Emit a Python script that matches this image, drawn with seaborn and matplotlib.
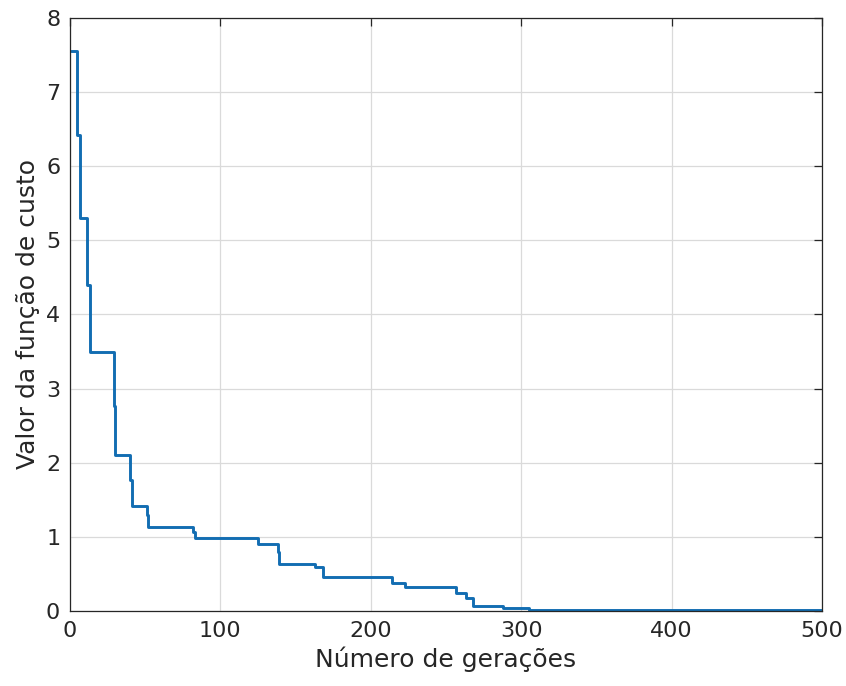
import matplotlib
matplotlib.use('Agg')
import matplotlib.pyplot as plt
import seaborn as sns
import pandas as pd

# best cost per generation (step changes)
geracoes = [1, 5, 7, 11, 13, 29, 30, 40, 41, 51, 52, 82, 83, 125, 138, 139,
            163, 168, 214, 223, 257, 263, 268, 288, 305, 500]
custo = [7.55, 6.42, 5.30, 4.40, 3.50, 2.76, 2.10, 1.77, 1.41, 1.30, 1.14,
         1.07, 0.98, 0.91, 0.80, 0.63, 0.60, 0.46, 0.38, 0.33, 0.24, 0.18,
         0.07, 0.045, 0.015, 0.015]

df = pd.DataFrame({'geracao': geracoes, 'custo': custo})

sns.set_style('white')
plt.rcParams['font.family'] = ['DejaVu Sans']

fig = plt.figure(figsize=(8.46, 6.86), dpi=100)
ax = fig.add_axes([0.0827, 0.1093, 0.8889, 0.8645])

sns.lineplot(data=df, x='geracao', y='custo', ax=ax, color='#126db2',
             linewidth=2.1, drawstyle='steps-post')

ax.set_xlim(0, 500)
ax.set_ylim(0, 8)
ax.set_xticks([0, 100, 200, 300, 400, 500])
ax.set_yticks(range(0, 9))
ax.grid(True, color='#dadada', linewidth=0.9)
ax.set_axisbelow(True)
for s in ax.spines.values():
    s.set_color('#262626')
    s.set_linewidth(0.9)
ax.tick_params(direction='in', length=6, width=0.9, colors='#262626',
               labelsize=16, top=True, right=True, pad=7)
ax.set_xlabel('Número de gerações', fontsize=18, color='#262626')
ax.set_ylabel('Valor da função de custo', fontsize=18, color='#262626')

plt.savefig('out.png', dpi=100)
